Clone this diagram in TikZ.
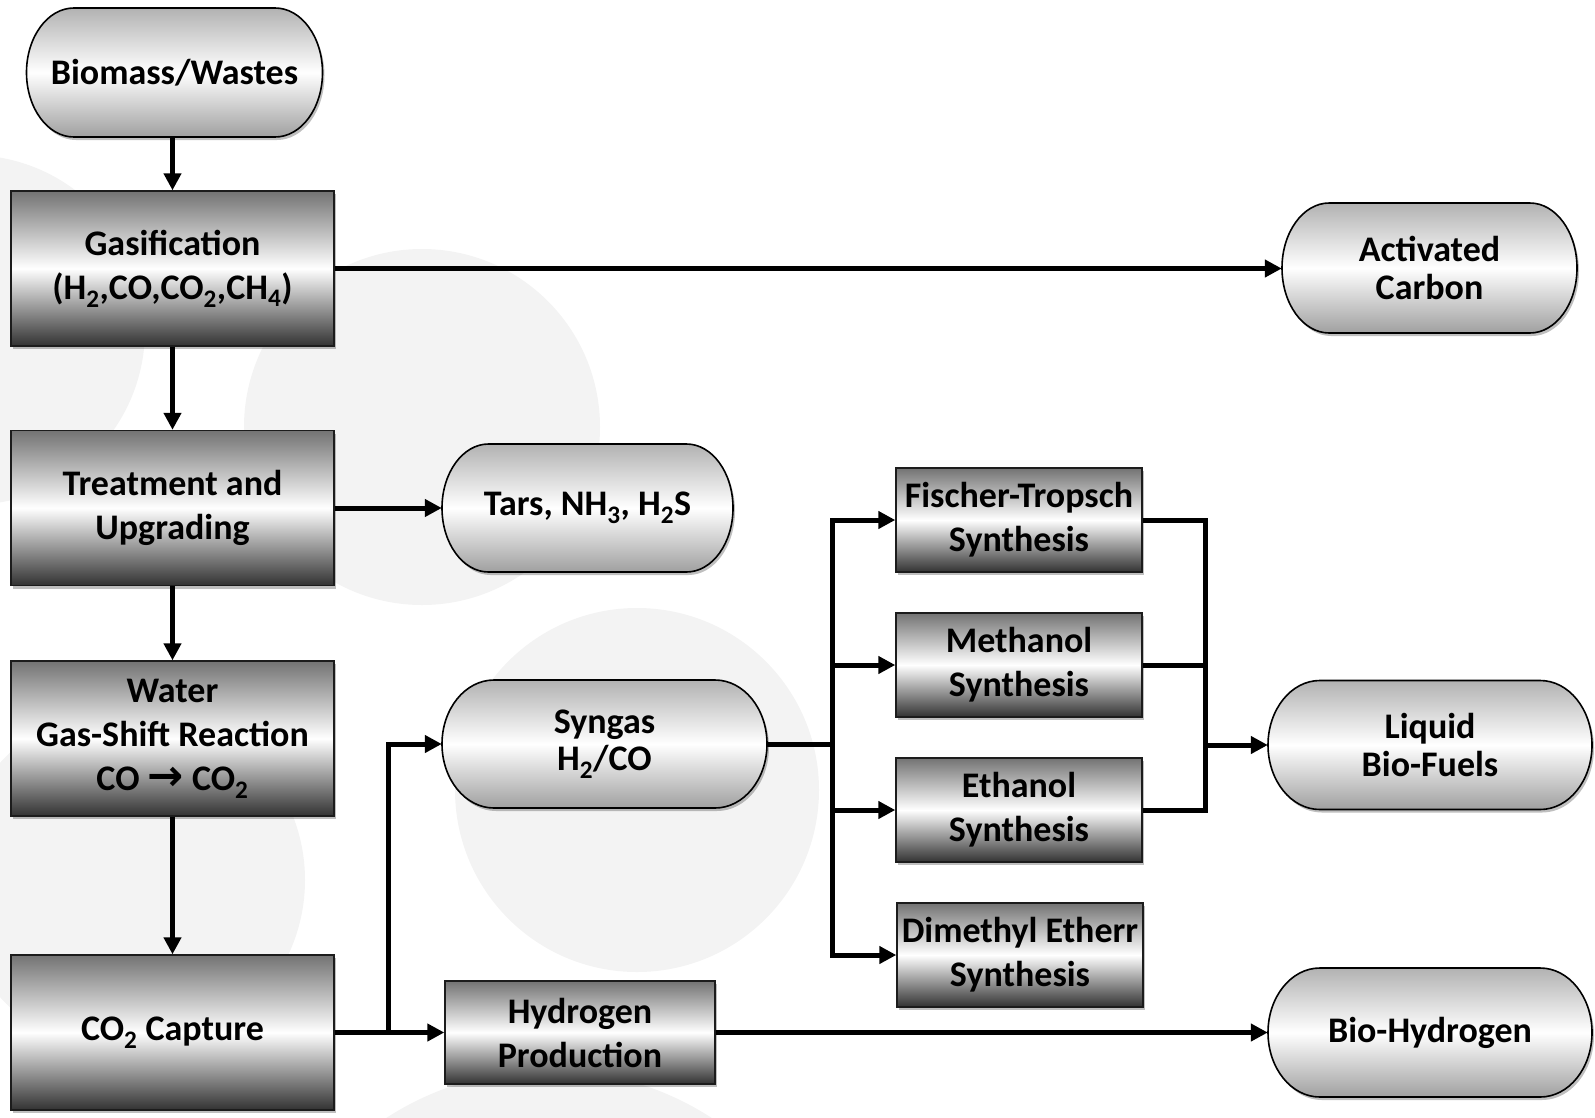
\documentclass[tikz,border=0pt]{standalone}
\usepackage{fontspec}
\setmainfont{Carlito}
\newfontfamily\arrowfont{DejaVu Sans}
\usetikzlibrary{arrows.meta,shadows}

\definecolor{bgc}{RGB}{243,243,243}
\definecolor{boxtop}{RGB}{115,115,115}
\definecolor{boxbot}{RGB}{50,50,50}
\definecolor{captop}{RGB}{178,178,178}
\definecolor{capbot}{RGB}{160,160,160}
\definecolor{edge}{RGB}{28,28,28}

\newcommand\capnode[6]{%
  \path[capfill] (#2-#4/2+#4*0.16, #3-#5/2) -- (#2+#4/2-#4*0.16, #3-#5/2)
    arc[start angle=-90, end angle=90, x radius=#4*0.16, y radius=#5/2]
    -- (#2-#4/2+#4*0.16, #3+#5/2)
    arc[start angle=90, end angle=270, x radius=#4*0.16, y radius=#5/2] -- cycle;
  \node[captext, minimum width=#4pt, minimum height=#5pt] (#1) at (#2,#3) {#6};
}

\begin{document}
\begin{tikzpicture}[x=1pt,y=-1pt,
  font=\fontsize{36}{44}\selectfont\bfseries,
  procbox/.style={draw=edge, line width=1.4pt, top color=boxtop, bottom color=boxbot,
    middle color=white, inner sep=0pt, align=center,
    drop shadow={shadow xshift=2pt, shadow yshift=-3pt, opacity=0.25, fill=black}},
  capfill/.style={draw=black, line width=1.6pt, top color=captop, bottom color=capbot,
    middle color=white,
    drop shadow={shadow xshift=2pt, shadow yshift=-3pt, opacity=0.25, fill=black}},
  captext/.style={inner sep=0pt, align=center, font=\fontsize{36}{37.5}\selectfont\bfseries},
  ln/.style={line width=5pt, line join=miter},
  arr/.style={ln, -{Triangle[length=17pt,width=17pt]}}]

\useasboundingbox (0,0) rectangle (1595,1117);

% faint background circles
\begin{scope}
  \clip (0,0) rectangle (1595,1117);
  \fill[bgc] (-30,330) circle[radius=175];
  \fill[bgc] (422,427) circle[radius=178];
  \fill[bgc] (637,790) circle[radius=182];
  \fill[bgc] (130,880) circle[radius=175];
  \fill[bgc] (549,1370) circle[radius=300];
\end{scope}

% capsule nodes
\capnode{bio}{174.5}{72.5}{296}{129}{Biomass/Wastes}
\capnode{ac}{1429.5}{268}{295}{130}{Activated\\Carbon}
\capnode{tars}{587.5}{508}{291}{128}{Tars, NH\textsubscript{3}, H\textsubscript{2}S}
\capnode{syn}{604.5}{744}{325}{128}{Syngas\\H\textsubscript{2}/CO}
\capnode{liq}{1430}{745}{324}{129}{Liquid\\Bio-Fuels}
\capnode{bh}{1430}{1032.5}{324}{129}{Bio-Hydrogen}

% process boxes
\node[procbox, minimum width=323pt, minimum height=155pt] (gas) at (172.5,268.5)
  {Gasification\\(H\textsubscript{2},CO,CO\textsubscript{2},CH\textsubscript{4})};
\node[procbox, minimum width=323pt, minimum height=155pt] (treat) at (172.5,508)
  {Treatment and\\Upgrading};
\node[procbox, minimum width=323pt, minimum height=155pt] (water) at (172.5,738.5)
  {Water\\Gas-Shift Reaction\\CO {\arrowfont\bfseries\scalebox{1.2}{→}} CO\textsubscript{2}};
\node[procbox, minimum width=323pt, minimum height=155pt] (co2) at (172.5,1032.5)
  {CO\textsubscript{2} Capture};
\node[procbox, minimum width=270pt, minimum height=103pt] (hp) at (580,1032.5)
  {Hydrogen\\Production};
\node[procbox, minimum width=246pt, minimum height=104pt] (ft) at (1019,520)
  {Fischer-Tropsch\\Synthesis};
\node[procbox, minimum width=246pt, minimum height=104pt] (meth) at (1019,665)
  {Methanol\\Synthesis};
\node[procbox, minimum width=246pt, minimum height=104pt] (eth) at (1019,810)
  {Ethanol\\Synthesis};
\node[procbox, minimum width=246pt, minimum height=104pt] (dme) at (1020,955)
  {Dimethyl Etherr\\Synthesis};

% junction points
\coordinate (split) at (388,1032.5);
\coordinate (busl) at (832,744);
\coordinate (busr) at (1205,745);

% connectors
\draw[arr] (bio.south -| gas.north) -- (gas.north);
\draw[arr] (gas.east) -- (gas.east -| ac.west);
\draw[arr] (gas.south) -- (treat.north);
\draw[arr] (treat.east) -- (treat.east -| tars.west);
\draw[arr] (treat.south) -- (water.north);
\draw[arr] (water.south) -- (co2.north);
\draw[arr] (co2.east) -- (hp.west);
\draw[arr] (split) |- (syn.west);
\draw[ln] (syn.east) -- (busl);
\draw[arr] (busl) |- (ft.west);
\draw[arr] (busl) |- (meth.west);
\draw[arr] (busl) |- (eth.west);
\draw[arr] (busl) |- (dme.west);
\draw[ln] (ft.east) -| (busr);
\draw[ln] (meth.east) -| (busr);
\draw[ln] (eth.east) -| (busr);
\draw[arr] (busr) -- (liq.west);
\draw[arr] (hp.east) -- (hp.east -| bh.west);
\end{tikzpicture}
\end{document}
